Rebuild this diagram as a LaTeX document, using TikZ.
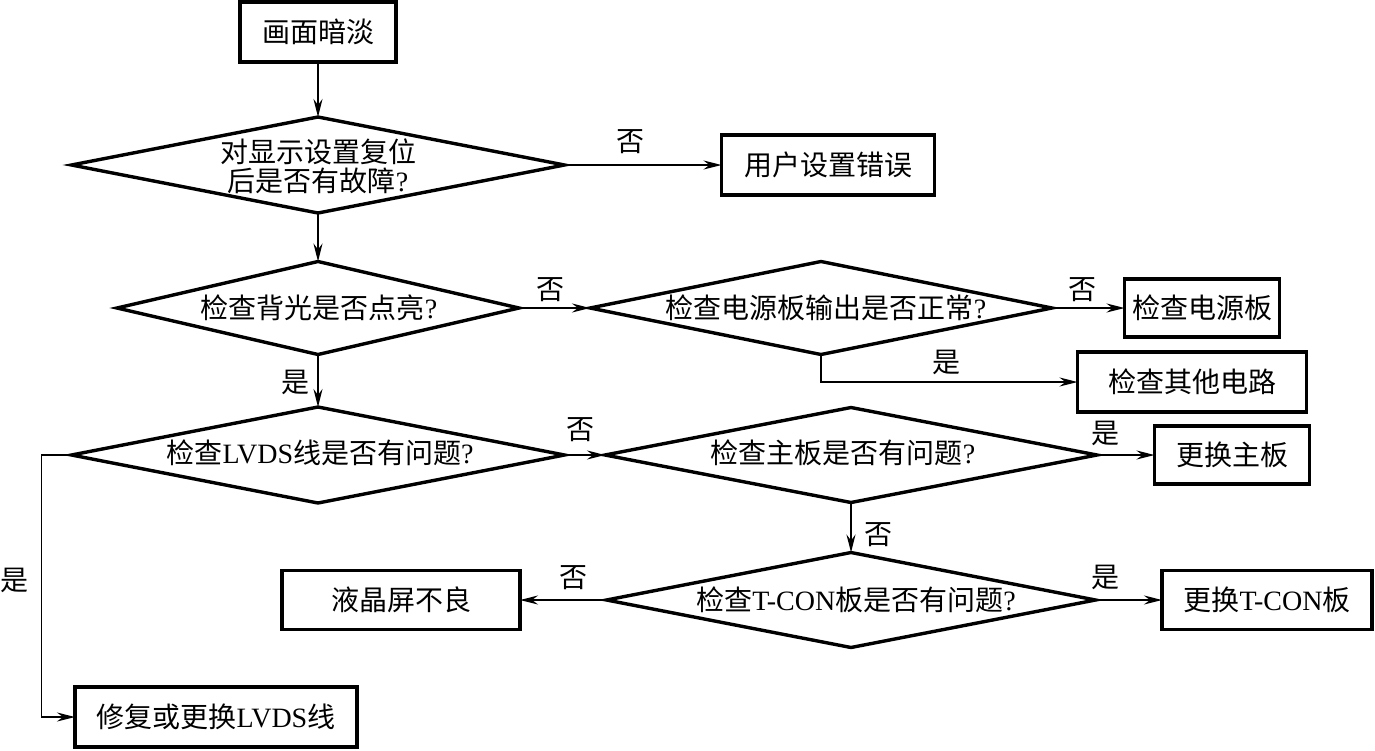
\documentclass[tikz,border=0pt]{standalone}
\usepackage{fontspec}
\setmainfont{Noto Sans CJK SC}
\newfontfamily\lat{Liberation Serif}
\usetikzlibrary{shapes.geometric,arrows.meta}
\begin{document}
\begin{tikzpicture}[x=1pt,y=-1pt,
  every node/.style={font=\fontsize{28}{29}\selectfont, inner sep=0pt, outer sep=0pt},
  box/.style={draw, line width=3.4pt, rectangle},
  dia/.style={draw, line width=3.4pt, diamond},
  arr/.style={line width=1.6pt, -{Stealth[length=18pt,width=9pt,inset=6pt]}}
]
\useasboundingbox (0,0) rectangle (1375,750);
% boxes
\node[box, minimum width=156pt, minimum height=60pt] (b1) at (318,32) {画面暗淡};
\node[box, minimum width=213pt, minimum height=60pt] (b2) at (828,165) {用户设置错误};
\node[box, minimum width=155pt, minimum height=58pt] (b3) at (1202,308) {检查电源板};
\node[box, minimum width=229pt, minimum height=60pt] (b4) at (1192,382) {检查其他电路};
\node[box, minimum width=155pt, minimum height=58pt] (b5) at (1232,455) {更换主板};
\node[box, minimum width=238pt, minimum height=59pt] (b6) at (401,600) {液晶屏不良};
\node[box, minimum width=210pt, minimum height=59pt] (b7) at (1267,600) {更换{\lat T-CON}板};
\node[box, minimum width=282pt, minimum height=60pt] (b8) at (216,717) {修复或更换{\lat LVDS}线};
% diamonds
\node[dia, minimum width=493pt, minimum height=96pt] (d1) at (318,165) {};
\node[align=center] (d1t) at (318,166) {对显示设置复位\\后是否有故障{\lat ?}};
\node[dia, minimum width=402pt, minimum height=93pt] (d2) at (318,308) {};
\node (d2t) at (319,308) {检查背光是否点亮{\lat ?}};
\node[dia, minimum width=462pt, minimum height=93pt] (d3) at (821,308) {};
\node (d3t) at (826,308) {检查电源板输出是否正常{\lat ?}};
\node[dia, minimum width=493pt, minimum height=96pt] (d4) at (318,455) {};
\node (d4t) at (320,453) {检查{\lat LVDS}线是否有问题{\lat ?}};
\node[dia, minimum width=492pt, minimum height=95pt] (d5) at (851,455) {};
\node (d5t) at (843,453) {检查主板是否有问题{\lat ?}};
\node[dia, minimum width=489pt, minimum height=95pt] (d6) at (851,600) {};
\node (d6t) at (856,600) {检查{\lat T-CON}板是否有问题{\lat ?}};
% labels
\node (l1) at (630,142) {否};
\node (l2) at (550,290) {否};
\node (l3) at (1082,290) {否};
\node (l4) at (946,362) {是};
\node (l5) at (295,382) {是};
\node (l6) at (580,430) {否};
\node (l7) at (1105,433) {是};
\node (l8) at (878,535) {否};
\node (l9) at (573,578) {否};
\node (l10) at (1105,577) {是};
\node (l11) at (14,580) {是};
% connectors
\draw[arr] (b1.south) -- (d1.north);
\draw[arr] (d1.east) -- (b2.west);
\draw[arr] (d1.south) -- (d2.north);
\draw[arr] (d2.east) -- (d3.west);
\draw[arr] (d3.east) -- (b3.west);
\draw[arr] (d3.south) |- (b4.west);
\draw[arr] (d2.south) -- (d4.north);
\draw[arr] (d4.east) -- (d5.west);
\draw[arr] (d5.east) -- (b5.west);
\draw[arr] (d5.south) -- (d6.north);
\draw[arr] (d6.west) -- (b6.east);
\draw[arr] (d6.east) -- (b7.west);
\draw[arr] (d4.west) -- ++(-30,0) |- (b8.west);
\end{tikzpicture}
\end{document}
